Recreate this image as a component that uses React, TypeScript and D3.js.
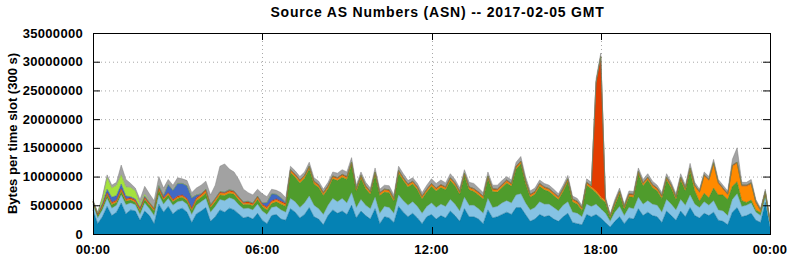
import React from "react";
import * as d3 from "d3";

// Values in millions of bytes per 300 s slot, sampled every 10 minutes (00:00 .. 24:00)
const STEP_MINUTES = 10;

const totalM = [
  6.0, 3.8, 6.5, 10.3, 8.5, 9.0, 12.0, 9.5, 8.8, 8.0, 6.0, 8.3, 7.0, 5.8, 10.0, 8.0, 9.5, 8.5, 9.8,
  9.6, 9.3, 7.2, 8.0, 8.5, 9.2, 6.8, 8.5, 11.8, 12.2, 11.3, 10.8, 9.5, 7.8, 7.2, 6.8, 7.8, 7.0,
  6.5, 7.8, 7.6, 7.2, 6.3, 11.8, 11.0, 10.0, 10.8, 12.5, 9.8, 9.2, 7.8, 9.0, 10.8, 10.6, 11.2, 10.8,
  13.3, 8.5, 10.8, 9.0, 8.0, 11.5, 7.8, 8.5, 8.4, 6.8, 11.8, 10.5, 9.3, 9.8, 8.8, 7.2, 8.5, 9.6,
  8.8, 9.4, 8.9, 10.5, 9.5, 8.0, 11.2, 9.0, 8.8, 8.0, 7.2, 10.8, 8.5, 8.5, 9.3, 10.0, 9.4, 12.5,
  13.5, 10.0, 7.5, 8.0, 9.4, 8.8, 8.5, 7.8, 7.0, 8.5, 10.2, 6.6, 6.2, 5.0, 9.6, 9.0, 27.0, 31.5, 6.5,
  3.5, 6.0, 8.0, 5.2, 7.5, 7.4, 11.5, 9.5, 10.5, 9.2, 8.5, 7.2, 10.5, 9.0, 7.0, 10.5, 8.5, 12.3,
  9.0, 7.8, 10.8, 10.0, 13.0, 9.5, 8.5, 7.5, 13.0, 15.0, 9.0, 9.0, 9.5, 6.0, 4.5, 7.8, 2.5,
];

const baseM = [
  4.2, 1.8, 3.0, 4.8, 3.2, 3.8, 5.4, 3.5, 4.2, 4.0, 2.4, 4.0, 3.2, 1.8, 5.2, 3.8, 4.8, 3.5, 4.2,
  4.5, 3.8, 2.0, 3.5, 4.0, 4.6, 2.2, 3.0, 4.2, 3.8, 4.5, 4.2, 3.5, 2.8, 3.0, 2.6, 3.6, 2.4,
  1.8, 3.2, 3.4, 2.6, 2.4, 4.4, 3.8, 2.8, 3.4, 4.6, 3.0, 2.6, 1.6, 3.2, 4.2, 3.6, 4.0, 3.4,
  5.0, 2.8, 4.0, 3.2, 2.6, 4.4, 1.8, 3.0, 2.8, 2.0, 4.8, 3.8, 3.0, 3.6, 2.8, 1.8, 3.0, 3.4,
  2.6, 3.2, 2.8, 4.0, 3.2, 2.2, 4.4, 3.0, 3.0, 2.6, 1.8, 4.2, 2.8, 3.0, 3.4, 3.8, 3.4, 4.6,
  4.6, 3.4, 2.2, 2.6, 3.4, 3.0, 3.2, 2.6, 2.2, 3.0, 3.6, 2.0, 1.8, 1.6, 3.4, 3.0, 3.4, 2.8, 2.0,
  1.2, 2.2, 3.0, 1.8, 2.8, 2.6, 4.4, 3.2, 3.8, 3.2, 3.0, 2.0, 4.0, 3.2, 2.4, 4.0, 3.0, 4.6,
  3.2, 2.8, 3.6, 3.2, 3.8, 2.4, 2.2, 1.6, 3.8, 4.6, 3.0, 3.2, 3.6, 2.4, 2.0, 5.5, 1.2,
];

const lightBlueM = [
  1.0, 1.0, 1.2, 1.4, 1.3, 1.2, 1.4, 1.6, 1.2, 1.1, 1.0, 1.4, 1.2, 1.4, 1.6, 1.4, 1.4, 1.5, 1.4,
  1.3, 1.4, 1.4, 1.5, 1.6, 1.6, 1.6, 1.8, 1.8, 2.0, 1.8, 1.8, 1.6, 1.6, 1.5, 1.6, 1.6, 1.6,
  1.6, 1.4, 1.4, 1.6, 1.4, 1.8, 1.8, 1.8, 2.0, 2.0, 2.0, 1.8, 1.8, 1.8, 2.0, 2.0, 2.2, 2.0,
  2.2, 1.8, 2.0, 1.8, 1.8, 2.0, 1.8, 1.8, 1.8, 1.6, 2.0, 2.0, 2.0, 2.0, 2.0, 1.8, 1.8, 2.0,
  2.0, 2.0, 2.0, 2.0, 2.0, 1.8, 2.0, 2.0, 2.0, 1.8, 1.8, 2.0, 1.8, 1.8, 2.0, 2.0, 2.0, 2.2,
  2.4, 2.0, 2.0, 2.0, 2.2, 2.2, 2.0, 2.0, 1.8, 2.0, 2.0, 1.8, 1.8, 1.4, 1.8, 1.8, 1.8, 1.6, 1.6,
  1.0, 1.6, 1.8, 1.4, 1.8, 1.8, 2.0, 2.0, 2.0, 2.0, 2.0, 1.8, 2.0, 2.0, 1.8, 2.0, 2.0, 2.2,
  2.0, 1.8, 2.0, 1.8, 2.0, 1.8, 1.8, 1.6, 2.2, 2.4, 1.8, 1.8, 1.8, 1.4, 1.2, 1.0, 0.6,
];

const greenM = [
  0.3, 0.4, 0.5, 0.6, 0.6, 0.5, 0.6, 0.6, 0.5, 0.4, 0.6, 0.6, 0.6, 0.8, 0.8, 0.7, 0.6, 0.6, 0.6,
  0.6, 0.6, 0.7, 0.8, 0.8, 0.9, 0.8, 0.8, 0.8, 0.9, 0.8, 0.9, 0.8, 0.7, 0.7, 0.7, 0.8, 0.8,
  0.8, 0.7, 0.8, 1.0, 1.0, 4.5, 4.3, 4.3, 4.3, 4.7, 3.7, 3.7, 3.3, 2.9, 3.4, 3.7, 3.7, 4.1,
  4.8, 2.8, 3.7, 2.9, 2.5, 3.9, 3.1, 2.5, 2.6, 2.1, 3.8, 3.5, 3.2, 3.1, 2.9, 2.5, 2.5, 2.9,
  2.9, 2.9, 2.9, 3.3, 3.2, 2.9, 3.7, 2.7, 2.4, 2.4, 2.5, 3.4, 2.8, 2.5, 2.7, 3.1, 2.9, 4.5,
  5.2, 3.4, 2.2, 2.3, 2.7, 2.5, 2.2, 2.1, 2.0, 2.4, 3.5, 1.8, 1.6, 1.1, 3.3, 3.1, 2.0, 1.8, 1.9,
  0.6, 1.2, 2.2, 1.1, 1.9, 2.0, 4.0, 3.2, 3.6, 2.9, 2.5, 2.4, 3.4, 2.8, 1.8, 3.4, 2.5, 4.2,
  2.3, 1.1, 1.5, 1.3, 2.2, 2.6, 2.8, 2.8, 2.3, 2.1, 1.0, 0.5, 0.5, 0.4, 0.5, 0.4, 0.3,
];

const orangeM = [
  0.1, 0.1, 0.2, 0.2, 0.2, 0.2, 0.3, 0.2, 0.2, 0.2, 0.2, 0.2, 0.2, 0.2, 0.3, 0.2, 0.2, 0.2, 0.2,
  0.2, 0.2, 0.2, 0.3, 0.3, 0.3, 0.2, 0.3, 0.3, 0.3, 0.3, 0.3, 0.3, 0.2, 0.2, 0.2, 0.3, 0.2,
  0.3, 0.3, 0.3, 0.3, 0.3, 0.3, 0.3, 0.3, 0.3, 0.3, 0.3, 0.3, 0.3, 0.3, 0.3, 0.3, 0.3, 0.3,
  0.3, 0.3, 0.3, 0.3, 0.3, 0.3, 0.3, 0.3, 0.3, 0.3, 0.3, 0.3, 0.3, 0.3, 0.3, 0.3, 0.3, 0.3,
  0.3, 0.3, 0.3, 0.3, 0.3, 0.3, 0.3, 0.3, 0.3, 0.3, 0.3, 0.3, 0.3, 0.3, 0.3, 0.3, 0.3, 0.3,
  0.3, 0.3, 0.3, 0.3, 0.3, 0.3, 0.3, 0.3, 0.3, 0.3, 0.3, 0.3, 0.3, 0.3, 0.3, 0.3, 0.3, 0.3, 0.3,
  0.2, 0.3, 0.3, 0.3, 0.3, 0.3, 0.3, 0.3, 0.3, 0.3, 0.3, 0.3, 0.3, 0.3, 0.3, 0.3, 0.3, 0.3,
  0.8, 1.5, 3.0, 3.0, 4.2, 2.0, 1.0, 0.8, 3.5, 3.2, 2.5, 2.8, 2.8, 1.2, 0.3, 0.3, 0.1,
];

const redM = [
  0.1, 0.1, 0.1, 0.2, 0.2, 0.2, 0.2, 0.2, 0.2, 0.2, 0.2, 0.2, 0.2, 0.2, 0.2, 0.2, 0.2, 0.2, 0.2,
  0.2, 0.2, 0.2, 0.2, 0.2, 0.3, 0.2, 0.2, 0.2, 0.2, 0.2, 0.2, 0.2, 0.2, 0.2, 0.2, 0.2, 0.2,
  0.2, 0.2, 0.2, 0.2, 0.2, 0.2, 0.2, 0.2, 0.2, 0.2, 0.2, 0.2, 0.2, 0.2, 0.2, 0.2, 0.2, 0.2,
  0.2, 0.2, 0.2, 0.2, 0.2, 0.2, 0.2, 0.2, 0.2, 0.2, 0.2, 0.2, 0.2, 0.2, 0.2, 0.2, 0.2, 0.2,
  0.2, 0.2, 0.2, 0.2, 0.2, 0.2, 0.2, 0.2, 0.2, 0.2, 0.2, 0.2, 0.2, 0.2, 0.2, 0.2, 0.2, 0.2,
  0.2, 0.2, 0.2, 0.2, 0.2, 0.2, 0.2, 0.2, 0.2, 0.2, 0.2, 0.2, 0.2, 0.2, 0.2, 0.2, 18.9, 24.4, 0.2,
  0.2, 0.2, 0.2, 0.2, 0.2, 0.2, 0.2, 0.2, 0.2, 0.2, 0.2, 0.2, 0.2, 0.2, 0.2, 0.2, 0.2, 0.2,
  0.2, 0.2, 0.2, 0.2, 0.2, 0.2, 0.2, 0.2, 0.2, 0.2, 0.2, 0.2, 0.2, 0.2, 0.2, 0.2, 0.1,
];

const blueM = [
  0.0, 0.1, 0.3, 0.6, 0.9, 0.8, 0.8, 0.5, 0.2, 0.2, 0.2, 0.2, 0.1, 0.1, 0.3, 0.4, 1.4, 1.6, 2.2,
  2.0, 2.2, 1.8, 0.5, 0.1, 0.1, 0.1, 0.1, 0.1, 0.1, 0.1, 0.1, 0.1, 0.1, 0.1, 0.1, 0.1, 0.2,
  0.8, 1.2, 0.8, 0.6, 0.2, 0.0, 0.0, 0.0, 0.0, 0.0, 0.0, 0.0, 0.0, 0.0, 0.0, 0.0, 0.0, 0.0,
  0.0, 0.0, 0.0, 0.0, 0.0, 0.0, 0.0, 0.0, 0.0, 0.0, 0.0, 0.0, 0.0, 0.0, 0.0, 0.0, 0.0, 0.0,
  0.0, 0.0, 0.0, 0.0, 0.0, 0.0, 0.0, 0.0, 0.0, 0.0, 0.0, 0.0, 0.0, 0.0, 0.0, 0.0, 0.0, 0.0,
  0.0, 0.0, 0.0, 0.0, 0.0, 0.0, 0.0, 0.0, 0.0, 0.0, 0.0, 0.0, 0.0, 0.0, 0.0, 0.0, 0.0, 0.0, 0.0,
  0.0, 0.0, 0.0, 0.0, 0.0, 0.0, 0.0, 0.0, 0.0, 0.0, 0.0, 0.0, 0.0, 0.0, 0.0, 0.0, 0.0, 0.0,
  0.0, 0.0, 0.0, 0.0, 0.0, 0.0, 0.0, 0.0, 0.0, 0.0, 0.0, 0.0, 0.0, 0.0, 0.0, 0.0, 0.0,
];

const limeM = [
  0.0, 0.2, 0.9, 2.0, 1.6, 1.8, 1.6, 1.6, 1.6, 1.4, 0.6, 0.3, 0.1, 0.0, 0.0, 0.0, 0.0, 0.0, 0.0,
];

const yTickValues = [0, 5000000, 10000000, 15000000, 20000000, 25000000, 30000000, 35000000];
const xTickMinutes = [0, 360, 720, 1080, 1440];
const xTickLabels = ["00:00", "06:00", "12:00", "18:00", "00:00"];

const TITLE = "Source AS Numbers (ASN) -- 2017-02-05 GMT";
const Y_LABEL = "Bytes per time slot (300 s)";

const layerKeys = ["base", "lightBlue", "green", "orange", "red", "blue", "lime", "other"];
const layerColors: Record<string, string> = {
  base: "#0582b4",
  lightBlue: "#86c3e4",
  green: "#4f9c2c",
  orange: "#ff8a00",
  red: "#e33d00",
  blue: "#4169c4",
  lime: "#a4e23e",
  other: "#a2a2a2",
};

const FONT = "'Liberation Sans', Arial, Helvetica, sans-serif";

export default function App() {
  const W = 792;
  const H = 259;
  const left = 93;
  const right = 770;
  const top = 33;
  const bottom = 234;

  const x = d3.scaleLinear().domain([0, 1440]).range([left, right]);
  const y = d3.scaleLinear().domain([0, 35000000]).range([bottom, top]);

  const rows = totalM.map((t, i) => {
    const b = baseM[i];
    const lb = lightBlueM[i];
    const g = greenM[i];
    const o = orangeM[i];
    const r = redM[i];
    const bl = blueM[i];
    const li = limeM[i] ?? 0;
    const rest = Math.max(0, t - (b + lb + g + o + r + bl + li));
    return {
      minute: i * STEP_MINUTES,
      base: b * 1e6,
      lightBlue: lb * 1e6,
      green: g * 1e6,
      orange: o * 1e6,
      red: r * 1e6,
      blue: bl * 1e6,
      lime: li * 1e6,
      other: rest * 1e6,
    };
  });

  const series = d3.stack<any>().keys(layerKeys)(rows);
  const area = d3
    .area<any>()
    .x((d) => x(d.data.minute))
    .y0((d) => y(d[0]))
    .y1((d) => y(d[1]));
  const topLine = d3
    .line<any>()
    .x((d) => x(d.data.minute))
    .y((d) => y(d[1]));

  return (
    <svg
      width={W}
      height={H}
      style={{ position: "absolute", left: 0, top: 0, background: "#fff" }}
      fontFamily={FONT}
    >
      <rect x={0} y={0} width={W} height={H} fill="#fff" />
      {/* grid */}
      {yTickValues
        .filter((v) => v > 0 && v < 35000000)
        .map((v) => (
          <line
            key={"gy" + v}
            x1={left}
            x2={right}
            y1={y(v) + 0.5}
            y2={y(v) + 0.5}
            stroke="#a8a8a8"
            strokeWidth={1}
            strokeDasharray="1,3"
          />
        ))}
      {xTickMinutes
        .filter((m) => m > 0 && m < 1440)
        .map((m) => (
          <line
            key={"gx" + m}
            x1={Math.round(x(m)) + 0.5}
            x2={Math.round(x(m)) + 0.5}
            y1={top}
            y2={bottom}
            stroke="#a8a8a8"
            strokeWidth={1}
            strokeDasharray="1,3"
          />
        ))}
      {/* stacked areas */}
      {series.map((s) => (
        <path key={"a" + s.key} d={area(s) || ""} fill={layerColors[s.key]} stroke="none" />
      ))}
      {series.map((s) => (
        <path
          key={"l" + s.key}
          d={topLine(s) || ""}
          fill="none"
          stroke={d3.color(layerColors[s.key])!.darker(0.7).toString()}
          strokeWidth={0.6}
          strokeOpacity={0.8}
        />
      ))}
      {/* ticks */}
      {yTickValues.map((v) => (
        <g key={"ty" + v}>
          <line x1={left} x2={left + 7} y1={y(v) + 0.5} y2={y(v) + 0.5} stroke="#000" />
          <line x1={right - 7} x2={right} y1={y(v) + 0.5} y2={y(v) + 0.5} stroke="#000" />
          <text
            x={83}
            y={y(v) + 4.5}
            textAnchor="end"
            fontSize={13}
            fontWeight="bold"
            letterSpacing={0.3}
            fill="#000"
          >
            {String(v)}
          </text>
        </g>
      ))}
      {xTickMinutes.map((m, i) => (
        <g key={"tx" + i}>
          <line x1={Math.round(x(m)) + 0.5} x2={Math.round(x(m)) + 0.5} y1={top} y2={top + 7} stroke="#000" />
          <line x1={Math.round(x(m)) + 0.5} x2={Math.round(x(m)) + 0.5} y1={bottom - 7} y2={bottom} stroke="#000" />
          <text
            x={x(m)}
            y={254}
            textAnchor="middle"
            fontSize={13}
            fontWeight="bold"
            letterSpacing={0.3}
            fill="#000"
          >
            {xTickLabels[i]}
          </text>
        </g>
      ))}
      {/* frame */}
      <rect
        x={left + 0.5}
        y={top + 0.5}
        width={right - left}
        height={bottom - top}
        fill="none"
        stroke="#000"
        strokeWidth={1}
      />
      {/* title */}
      <text
        x={(left + right) / 2 + 6}
        y={17}
        textAnchor="middle"
        fontSize={14}
        fontWeight="bold"
        letterSpacing={0.8}
        fill="#000"
      >
        {TITLE}
      </text>
      <text
        transform={`translate(17, ${(top + bottom) / 2}) rotate(-90)`}
        textAnchor="middle"
        fontSize={13}
        fontWeight="bold"
        fill="#000"
      >
        {Y_LABEL}
      </text>
    </svg>
  );
}
